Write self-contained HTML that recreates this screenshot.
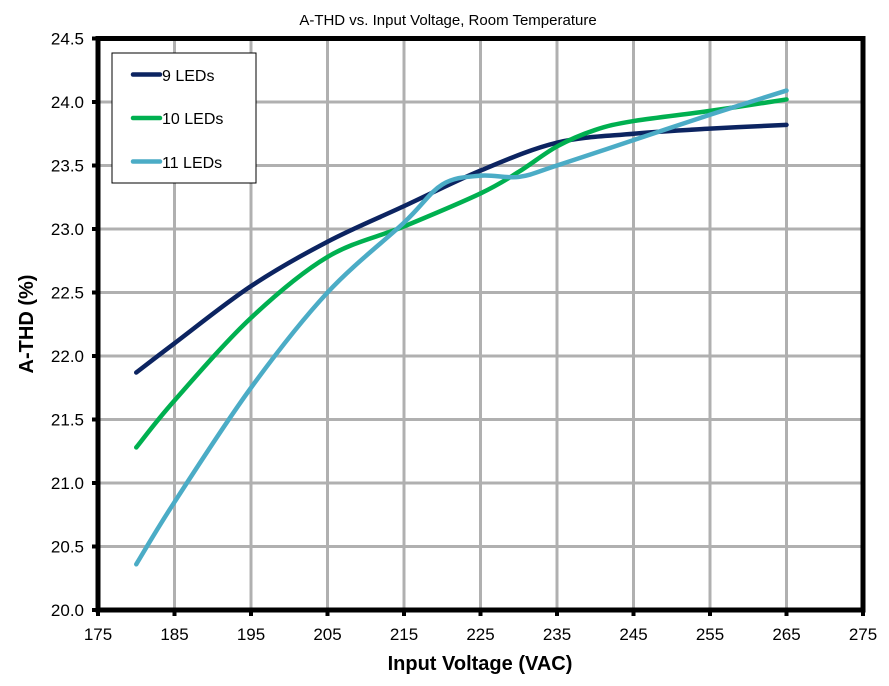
<!DOCTYPE html>
<html><head><meta charset="utf-8"><style>
body{margin:0;background:#fff;}
svg{display:block;font-family:"Liberation Sans",Arial,sans-serif;}
</style></head><body>
<svg id="s" width="889" height="686" viewBox="0 0 889 686" xmlns="http://www.w3.org/2000/svg">
<rect width="889" height="686" fill="#fff"/>
<g id="grid" stroke="#b0b0b0" stroke-width="3"></g>
<g id="series" fill="none" stroke-width="4.5" stroke-linecap="round" stroke-linejoin="round"></g>
<rect x="98" y="38.5" width="765" height="571.5" fill="none" stroke="#000" stroke-width="5"/>
<g id="ticks" stroke="#000" stroke-width="4"></g>
<g id="labels" font-size="17" fill="#000"></g>
<text x="448" y="25" font-size="15" text-anchor="middle">A-THD vs. Input Voltage, Room Temperature</text>
<text x="480" y="670" font-size="20" font-weight="bold" text-anchor="middle">Input Voltage (VAC)</text>
<text transform="translate(33,324) rotate(-90)" font-size="20" font-weight="bold" text-anchor="middle">A-THD (%)</text>
<rect x="112" y="53" width="144" height="130" fill="#fff" stroke="#000" stroke-width="1"/>
<line x1="133" y1="74.5" x2="160" y2="74.5" stroke="#0c2461" stroke-width="4.5" stroke-linecap="round"/>
<line x1="133" y1="118" x2="160" y2="118" stroke="#00b050" stroke-width="4.5" stroke-linecap="round"/>
<line x1="133" y1="161.5" x2="160" y2="161.5" stroke="#4bacc6" stroke-width="4.5" stroke-linecap="round"/>
<text x="162" y="81" font-size="16">9 LEDs</text>
<text x="162" y="124" font-size="16">10 LEDs</text>
<text x="162" y="168" font-size="16">11 LEDs</text>
</svg>
<script>
var NS="http://www.w3.org/2000/svg";
function X(v){return 98+(v-175)*7.65;}
function Y(t){return 610-(t-20)*127;}
function el(p,n,a){var e=document.createElementNS(NS,n);for(var k in a)e.setAttribute(k,a[k]);document.getElementById(p).appendChild(e);return e;}
for(var v=185;v<275;v+=10)el("grid","line",{x1:X(v),y1:38.5,x2:X(v),y2:610});
for(var t=20.5;t<24.5;t+=0.5)el("grid","line",{x1:98,y1:Y(t),x2:863,y2:Y(t)});
for(var v=175;v<=275;v+=10){el("ticks","line",{x1:X(v),y1:610,x2:X(v),y2:616});
 var tx=el("labels","text",{x:X(v),y:640,"text-anchor":"middle"});tx.textContent=v;}
for(var t=20;t<=24.51;t+=0.5){el("ticks","line",{x1:92,y1:Y(t),x2:98,y2:Y(t)});
 var ty=el("labels","text",{x:84,y:Y(t)+6,"text-anchor":"end"});ty.textContent=t.toFixed(1);}
function path(pts,c){var P=pts.map(function(p){return [X(p[0]),Y(p[1])];});
 var d="M"+P[0][0]+","+P[0][1];
 for(var i=0;i<P.length-1;i++){var p0=P[i-1]||P[i],p1=P[i],p2=P[i+1],p3=P[i+2]||P[i+1];
  d+=" C"+(p1[0]+(p2[0]-p0[0])/6)+","+(p1[1]+(p2[1]-p0[1])/6)+" "+(p2[0]-(p3[0]-p1[0])/6)+","+(p2[1]-(p3[1]-p1[1])/6)+" "+p2[0]+","+p2[1];}
 el("series","path",{d:d,stroke:c});}
path([[180,21.87],[185,22.1],[195,22.55],[205,22.9],[215,23.18],[225,23.46],[235,23.68],[245,23.75],[255,23.79],[265,23.82]],"#0c2461");
path([[180,21.28],[185,21.65],[195,22.3],[205,22.78],[215,23.02],[225,23.28],[230,23.45],[235,23.65],[240,23.78],[245,23.85],[255,23.93],[265,24.02]],"#00b050");
path([[180,20.36],[185,20.85],[195,21.75],[205,22.5],[215,23.05],[220,23.35],[225,23.42],[230,23.41],[235,23.5],[245,23.7],[255,23.9],[265,24.09]],"#4bacc6");
</script>
</body></html>
